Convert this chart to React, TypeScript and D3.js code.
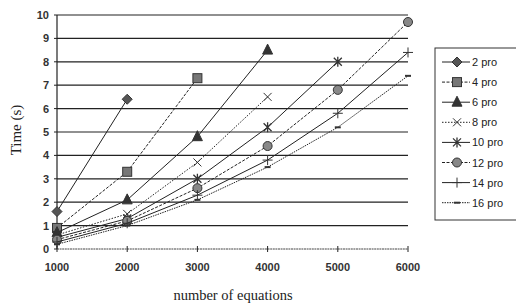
import React from 'react';
import * as d3 from 'd3';

// equations (x values)
const equations = [1000, 2000, 3000, 4000, 5000, 6000];
const seriesNames = ['2 pro', '4 pro', '6 pro', '8 pro', '10 pro', '12 pro', '14 pro', '16 pro'];

// times, one array per processor count
const pro2 = [1.6, 6.4];
const pro4 = [0.9, 3.3, 7.3];
const pro6 = [0.7, 2.1, 4.8, 8.5];
const pro8 = [0.6, 1.5, 3.7, 6.5];
const pro10 = [0.5, 1.3, 3.0, 5.2, 8.0];
const pro12 = [0.4, 1.2, 2.6, 4.4, 6.8, 9.7];
const pro14 = [0.3, 1.1, 2.3, 3.8, 5.8, 8.4];
const pro16 = [0.2, 1.0, 2.1, 3.5, 5.2, 7.4];

const yTicks = [0, 1, 2, 3, 4, 5, 6, 7, 8, 9, 10];

const allSeries = [pro2, pro4, pro6, pro8, pro10, pro12, pro14, pro16];
const markers = ['diamond', 'square', 'triangle', 'x', 'asterisk', 'circle', 'plus', 'dash'];
const dashes = [null, '3,1.5', null, '1.5,1.5', null, '3,1.5', null, '1.5,1'];

function Marker({ kind, x, y }: { kind: string; x: number; y: number }) {
  const c = '#333';
  switch (kind) {
    case 'diamond':
      return <path d={`M${x},${y - 5}L${x + 5},${y}L${x},${y + 5}L${x - 5},${y}Z`} fill="#555" stroke={c} strokeWidth={1} />;
    case 'square':
      return <rect x={x - 4.5} y={y - 4.5} width={9} height={9} fill="#777" stroke={c} strokeWidth={1} />;
    case 'triangle':
      return <path d={`M${x},${y - 6}L${x + 5},${y + 4}L${x - 5},${y + 4}Z`} fill="#333" stroke={c} strokeWidth={1} />;
    case 'x':
      return <path d={`M${x - 4},${y - 4}L${x + 4},${y + 4}M${x + 4},${y - 4}L${x - 4},${y + 4}`} stroke={c} strokeWidth={1} />;
    case 'asterisk':
      return <path d={`M${x - 4},${y - 4}L${x + 4},${y + 4}M${x + 4},${y - 4}L${x - 4},${y + 4}M${x},${y - 5}L${x},${y + 5}`} stroke={c} strokeWidth={1.3} />;
    case 'circle':
      return <circle cx={x} cy={y} r={4.5} fill="#888" stroke={c} strokeWidth={1} />;
    case 'plus':
      return <path d={`M${x - 5},${y}L${x + 5},${y}M${x},${y - 5}L${x},${y + 5}`} stroke={c} strokeWidth={1} />;
    default:
      return <path d={`M${x - 3},${y}L${x + 3},${y}`} stroke={c} strokeWidth={2} />;
  }
}

export default function App() {
  const width = 516;
  const height = 307;
  const x = d3.scaleLinear().domain([1000, 6000]).range([57, 408]);
  const y = d3.scaleLinear().domain([0, 10]).range([249, 15]);
  const line = d3
    .line<number>()
    .x((_, i) => x(equations[i]))
    .y((d) => y(d));

  const lx = 435;
  const ly = 48;

  return (
    <svg width={width} height={height} style={{ position: 'absolute', left: 0, top: 0, background: '#fff' }}>
      {/* gridlines */}
      {yTicks.filter((t) => t > 0).map((t) => (
        <line key={t} x1={x(1000)} x2={x(6000)} y1={y(t)} y2={y(t)} stroke="#222" strokeWidth={1.2} />
      ))}
      {/* axes */}
      <line x1={x(1000)} x2={x(1000)} y1={y(0)} y2={y(10)} stroke="#222" strokeWidth={1.2} />
      <line x1={x(1000)} x2={x(6000)} y1={y(0)} y2={y(0)} stroke="#444" strokeWidth={1} strokeDasharray="2,0.6" />
      {equations.map((e) => (
        <line key={e} x1={x(e)} x2={x(e)} y1={y(0) - 3} y2={y(0) + 3} stroke="#222" strokeWidth={1} />
      ))}
      {yTicks.map((t) => (
        <line key={t} x1={x(1000) - 3} x2={x(1000)} y1={y(t)} y2={y(t)} stroke="#222" strokeWidth={1} />
      ))}
      {/* tick labels */}
      {yTicks.map((t) => (
        <text key={t} x={49} y={y(t) + 4} textAnchor="end" fontFamily="Arial, 'Liberation Sans'" fontSize={11} fontWeight="bold" fill="#333">
          {t}
        </text>
      ))}
      {equations.map((e) => (
        <text key={e} x={x(e)} y={271} textAnchor="middle" fontFamily="Arial, 'Liberation Sans'" fontSize={11} fontWeight="bold" fill="#333">
          {e}
        </text>
      ))}
      {/* series */}
      {allSeries.map((s, i) => (
        <g key={i}>
          <path d={line(s) || ''} fill="none" stroke="#222" strokeWidth={1} strokeDasharray={dashes[i] || undefined} />
          {s.map((v, j) => (
            <Marker key={j} kind={markers[i]} x={x(equations[j])} y={y(v)} />
          ))}
        </g>
      ))}
      {/* axis titles */}
      <text x={233} y={300} textAnchor="middle" fontFamily="'Liberation Serif', 'DejaVu Serif', serif" fontSize={14.5} fill="#222">
        number of equations
      </text>
      <text transform="translate(21,130) rotate(-90)" textAnchor="middle" fontFamily="'Liberation Serif', 'DejaVu Serif', serif" fontSize={15} fill="#222">
        Time (s)
      </text>
      {/* legend */}
      <rect x={lx} y={ly} width={100} height={172} fill="#fff" stroke="#333" strokeWidth={1} />
      {seriesNames.map((n, i) => {
        const yy = 62 + i * 20.1;
        return (
          <g key={n}>
            <line x1={442} x2={470} y1={yy} y2={yy} stroke="#222" strokeWidth={1} strokeDasharray={dashes[i] || undefined} />
            <Marker kind={markers[i]} x={457} y={yy} />
            <text x={472} y={yy + 4} fontFamily="Arial, 'Liberation Sans'" fontSize={11} fill="#222">
              {n}
            </text>
          </g>
        );
      })}
    </svg>
  );
}
